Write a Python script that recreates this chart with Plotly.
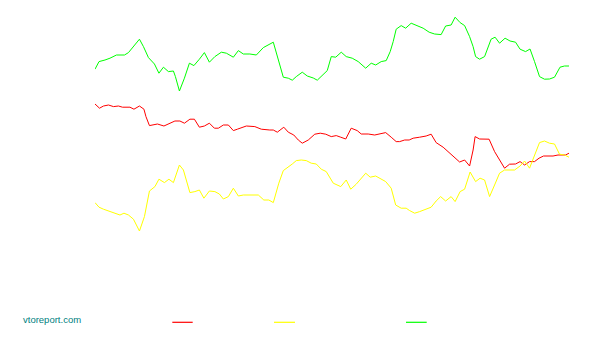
import plotly.graph_objects as go

# Series (day index, value)
green_x = [0, 0.8, 2, 3, 4.3, 5.9, 6.7, 7.7, 8.9, 9.7, 10.7, 11.9, 12.8, 13.7, 14.7, 15.7, 16.1, 16.9, 17.9, 18.9,
           19.8, 20.9, 21.9, 22.9, 24, 25.3, 26.3, 27.7, 28.7, 29.7, 31, 32.3, 33.7, 35.7, 36.7, 37.7, 38.7, 39.5,
           40.3, 41.5, 42.5, 43.7, 44.5, 45.5, 46.5, 47.3, 48.2, 49.3, 50.3, 51.5, 52.7, 54.2, 55.3, 56.2, 57.3,
           58.3, 59.1, 59.7, 60.3, 61.3, 62.2, 63.3, 64.5, 65.7, 66.9, 68, 69.3, 70.2, 71.3, 72.1, 73.1, 74, 75,
           75.7, 76.2, 77, 78, 78.7, 79.3, 80.1, 81, 82.1, 83.1, 84.2, 85.1, 86.2, 87.1, 88, 89, 90, 91, 92, 93.1,
           94, 94.9]
green_y = [95.4, 99.2, 100, 100.9, 102.5, 102.5, 103.7, 106.7, 110.4, 106.7, 101.2, 98, 93.4, 96.4, 94.2, 94.5,
           91.7, 84.5, 90.9, 98.4, 97.2, 100.4, 103.7, 98.9, 101.7, 103.9, 103.4, 101.4, 104.7, 103, 103, 102.5,
           106.2, 108.9, 100, 91.4, 90.9, 89.9, 91.7, 93.9, 92, 91, 89.9, 92.4, 94.7, 101.7, 101.4, 103.9, 101.7,
           100.9, 99.2, 95.9, 98.4, 97.5, 99.2, 99.7, 104.2, 109.2, 115.4, 117.2, 115.9, 118.4, 117.2, 115.9,
           113.9, 113, 112.7, 117, 117.5, 121.4, 118.7, 117.2, 111.7, 106.7, 101.7, 100.4, 101.7, 106.7, 110.4,
           111.4, 108.4, 110.9, 109.5, 108.9, 105.4, 104.2, 105.5, 99.2, 91.7, 90.4, 90.5, 91.4, 96.4, 97, 97]

red_x = [0, 0.9, 1.7, 2.7, 3.7, 4.7, 5.5, 7, 7.8, 8.9, 9.8, 10.2, 10.9, 11.5, 12.5, 13.8, 15, 16, 17, 17.9, 19,
         19.9, 20.9, 21.9, 22.9, 23.9, 24.7, 25.7, 26.7, 27.7, 28.5, 30.3, 32, 33.3, 35, 35.7, 36.5, 37.8, 38.7,
         39.8, 40.7, 41.5, 42.7, 44, 45.1, 46.2, 47.3, 48.3, 49.2, 50.2, 51.3, 52.5, 53.3, 54.7, 56, 57, 58.2,
         59.3, 60.3, 61, 62, 62.9, 63.7, 65, 66.3, 67.3, 68.3, 69.7, 70.7, 72, 73, 74, 75, 75.7, 76.1, 77, 78.9,
         80, 81.1, 82, 83, 84.2, 85.1, 86, 87, 88, 88.9, 89.8, 91.7, 92.7, 94.2, 94.9]
red_y = [78, 75.9, 77, 77.5, 76.7, 77, 76.4, 76.4, 75.4, 77, 75.4, 71.7, 67.2, 67.5, 68, 67, 68.4, 69.5, 69.5,
         68.4, 70.4, 70.4, 66.4, 67, 68.4, 65.9, 65.9, 67.5, 67.5, 64.7, 65.4, 67, 66.7, 65.4, 65, 65, 63.9,
         66.4, 63.9, 62.5, 60, 58.4, 60, 62.9, 63.4, 62.9, 61.7, 62.2, 61.4, 60.5, 65.9, 64.7, 63, 63, 62.5, 63,
         63.7, 61.4, 59.2, 59.2, 60, 60, 60.9, 61.4, 62, 62.9, 58.7, 56.4, 54.2, 50.9, 49, 50, 47, 55, 61.7,
         60.5, 60.4, 54.2, 50, 45.9, 47.9, 48, 49.2, 47.5, 49.2, 49.2, 50.9, 52, 52, 52.5, 52.5, 53.4]

yellow_x = [0, 0.8, 1.7, 2.7, 3.7, 5, 5.8, 6.7, 7.7, 8.3, 8.9, 9.9, 10.9, 12, 12.8, 13.9, 14.8, 15.7, 16.9, 17.7,
            19, 20, 20.9, 21.8, 22.9, 24, 24.9, 25.7, 26.7, 27.7, 28.7, 29.7, 32.7, 33.8, 34.8, 35.7, 36.8, 37.7,
            38.7, 39.5, 40.3, 41.3, 42.3, 43.3, 44.3, 45.3, 46.3, 47.7, 49.2, 50.3, 51.2, 52.3, 54.2, 55.1, 56.2,
            57, 58.2, 59.3, 60.2, 61.3, 62.3, 63, 64, 65, 66.2, 67.3, 68.3, 69.2, 70.2, 71.3, 72.1, 73.1, 74, 75.1,
            76.2, 77.1, 78, 79, 80, 81, 82, 84, 85.1, 86, 87, 88, 89, 90, 91, 92, 93, 94, 94.9]
yellow_y = [28.7, 26.4, 25.4, 24.5, 23.9, 22.5, 23.4, 22.5, 20.4, 17.5, 14.5, 21.7, 34.5, 36.7, 40.4, 38.7, 40.4,
            38.7, 47.5, 45, 33.7, 34.2, 35, 30.9, 34.5, 34.2, 33, 30.5, 31.7, 35.9, 32, 32.5, 32.5, 30, 30, 28.7,
            38.4, 44.7, 46.4, 48, 49.7, 50, 49.7, 48.4, 48, 45.4, 44.2, 38.4, 36.7, 40, 35.4, 37.9, 43.4, 41.4, 42,
            40.7, 39.2, 35.9, 27.5, 25.9, 25.9, 24.7, 23.4, 24.2, 25.5, 26.4, 29.5, 31.7, 29.5, 31.7, 29.2, 34.2,
            35.4, 44, 39.2, 40.9, 40, 31.7, 37.5, 43.4, 45, 45, 47, 49.5, 45.9, 52.5, 58.7, 59.5, 58.4, 58, 52.9,
            52.5, 51.4]

series_names = ["red", "yellow", "green"]
series_colors = ["#ff0000", "#ffff00", "#00ff00"]
series_x = [red_x, yellow_x, green_x]
series_y = [red_y, yellow_y, green_y]

fig = go.Figure()
for name, col, xs, ys in zip(series_names, series_colors, series_x, series_y):
    fig.add_trace(go.Scatter(x=xs, y=ys, mode="lines", name=name,
                             line=dict(color=col, width=1), showlegend=False,
                             hoverinfo="skip"))

# Legend swatches (no text in the reference)
legend_spans = [(0.1631, 0.2061), (0.3776, 0.4219), (0.6561, 0.6998)]
for (x0, x1), col in zip(legend_spans, series_colors):
    fig.add_shape(type="line", xref="paper", yref="paper", x0=x0, x1=x1,
                  y0=-0.2396, y1=-0.2396, line=dict(color=col, width=1.2))

fig.add_annotation(text="vtoreport.com", xref="paper", yref="paper",
                   x=-0.1561, y=-0.2296, xanchor="left", yanchor="middle",
                   showarrow=False,
                   font=dict(family="Liberation Sans, Arial", size=9.5, color="#008080"))

fig.update_layout(
    width=593, height=339,
    margin=dict(l=95, r=24, t=0, b=79),
    paper_bgcolor="white", plot_bgcolor="white",
    xaxis=dict(range=[0, 94.9], visible=False, showgrid=False, zeroline=False),
    yaxis=dict(range=[0, 130], visible=False, showgrid=False, zeroline=False),
)

fig.write_html("out.html")
